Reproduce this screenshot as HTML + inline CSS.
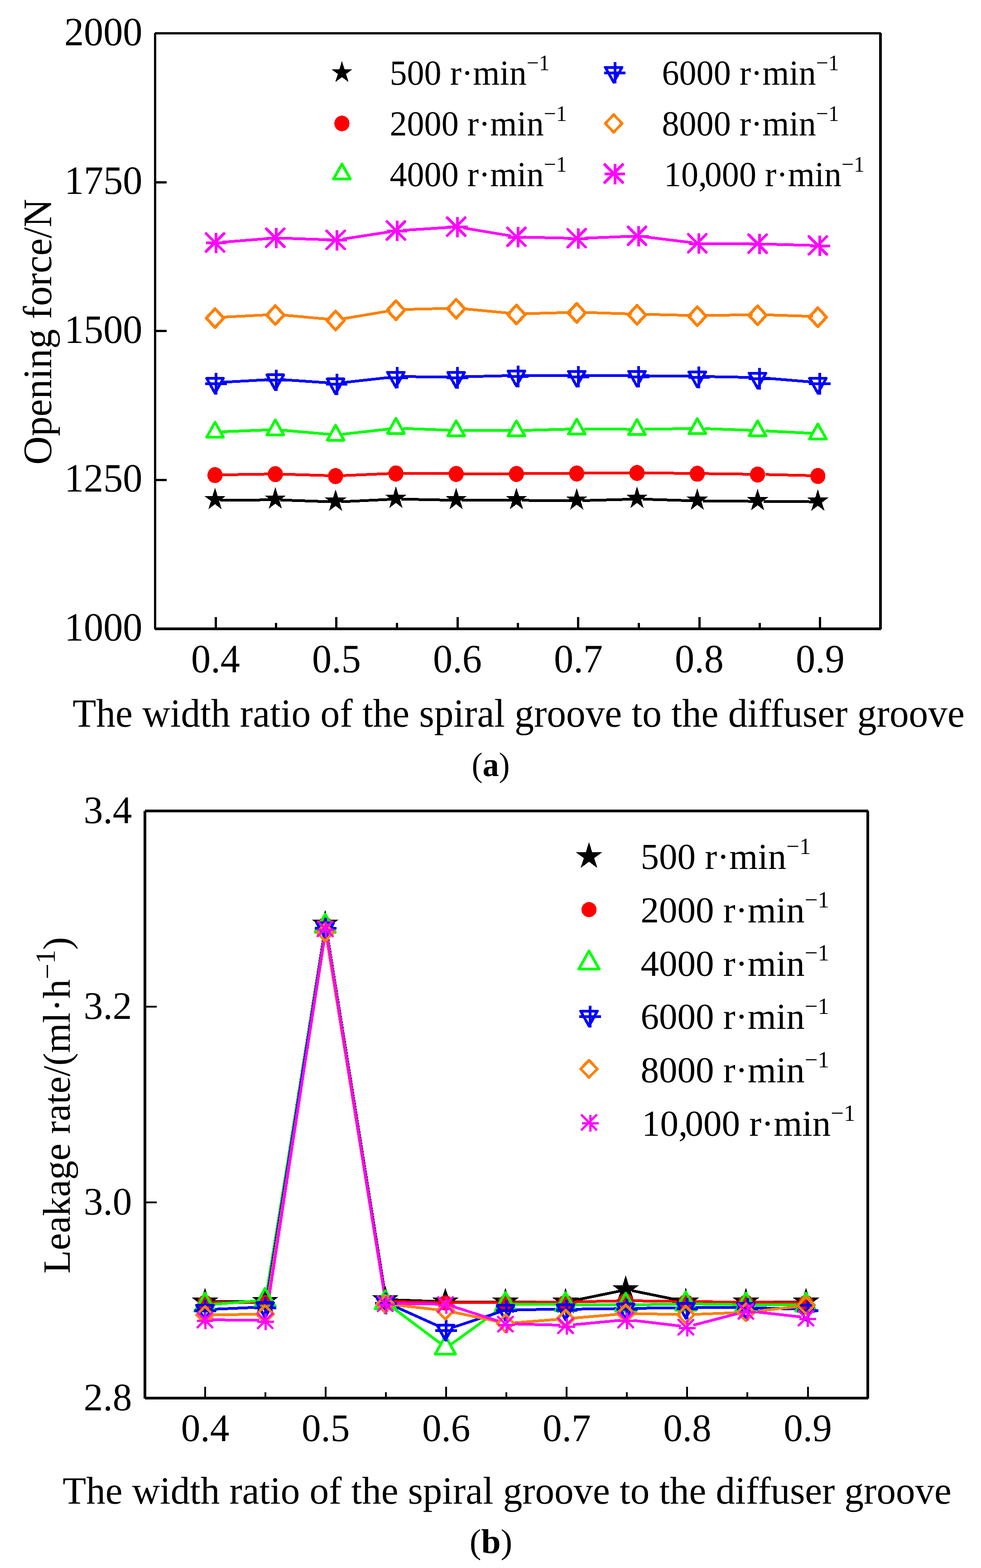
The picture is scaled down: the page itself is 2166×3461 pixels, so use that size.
<!DOCTYPE html>
<html lang="en">
<head>
<meta charset="utf-8">
<title>Opening force and leakage rate versus width ratio</title>
<style>
html,body{margin:0;padding:0;background:#fff;}
body{width:2166px;height:3461px;overflow:hidden;}
svg{display:block;}
svg text{font-family:"Liberation Serif", "DejaVu Serif", serif;fill:#000;}
</style>
</head>
<body>
<svg width="2166" height="3461" viewBox="0 0 2166 3461" shape-rendering="crispEdges" text-rendering="geometricPrecision">
<rect x="0" y="0" width="2166" height="3461" fill="#fff"/>
<rect x="340" y="73" width="5" height="1316" fill="#000"/>
<rect x="342" y="71" width="1603" height="5" fill="#000"/>
<rect x="1941" y="73" width="6" height="1316" fill="#000"/>
<rect x="342" y="1385" width="1603" height="6" fill="#000"/>
<rect x="345" y="400" width="23" height="5" fill="#000"/>
<rect x="345" y="728" width="23" height="5" fill="#000"/>
<rect x="345" y="1057" width="23" height="5" fill="#000"/>
<text transform="translate(314.5,99.5) scale(0.972,1)" font-size="88.8" text-anchor="end">2000</text>
<text transform="translate(314.5,428.125) scale(0.972,1)" font-size="88.8" text-anchor="end">1750</text>
<text transform="translate(314.5,756.75) scale(0.972,1)" font-size="88.8" text-anchor="end">1500</text>
<text transform="translate(314.5,1085.38) scale(0.972,1)" font-size="88.8" text-anchor="end">1250</text>
<text transform="translate(314.5,1414) scale(0.972,1)" font-size="88.8" text-anchor="end">1000</text>
<rect x="474" y="1362" width="5" height="23" fill="#000"/>
<text transform="translate(476,1484) scale(0.972,1)" font-size="88.8" text-anchor="middle">0.4</text>
<rect x="607" y="1375" width="5" height="10" fill="#000"/>
<rect x="740" y="1362" width="5" height="23" fill="#000"/>
<text transform="translate(743,1484) scale(0.972,1)" font-size="88.8" text-anchor="middle">0.5</text>
<rect x="874" y="1375" width="5" height="10" fill="#000"/>
<rect x="1008" y="1362" width="5" height="23" fill="#000"/>
<text transform="translate(1010,1484) scale(0.972,1)" font-size="88.8" text-anchor="middle">0.6</text>
<rect x="1141" y="1375" width="5" height="10" fill="#000"/>
<rect x="1274" y="1362" width="5" height="23" fill="#000"/>
<text transform="translate(1277,1484) scale(0.972,1)" font-size="88.8" text-anchor="middle">0.7</text>
<rect x="1408" y="1375" width="5" height="10" fill="#000"/>
<rect x="1542" y="1362" width="5" height="23" fill="#000"/>
<text transform="translate(1544,1484) scale(0.972,1)" font-size="88.8" text-anchor="middle">0.8</text>
<rect x="1675" y="1375" width="5" height="10" fill="#000"/>
<rect x="1808" y="1362" width="5" height="23" fill="#000"/>
<text transform="translate(1811,1484) scale(0.972,1)" font-size="88.8" text-anchor="middle">0.9</text>
<text transform="translate(160.2,1603.7) scale(0.9662,1)" font-size="88.3" text-anchor="start">The width ratio of the spiral groove to the diffuser groove</text>
<text transform="translate(1083.5,1713) scale(0.963,1)" font-size="75" text-anchor="middle">(<tspan font-weight="bold">a</tspan>)</text>
<text transform="translate(113,732.3) rotate(-90) scale(0.9715,1)" font-size="89.5" text-anchor="middle">Opening force/N</text>
<path d="M486.0 1104.2L599.3 1103.3M619.3 1103.6L732.6 1107.6M752.6 1107.5L865.9 1102.0M885.9 1101.7L999.2 1104.1M1019.2 1104.3L1132.5 1104.3M1152.5 1104.4L1265.8 1105.2M1285.8 1105.0L1399.1 1101.8M1419.1 1101.8L1532.4 1105.4M1552.4 1105.8L1665.7 1106.6M1685.7 1106.8L1799.0 1107.6" fill="none" stroke="#000" stroke-width="6"/>
<path d="M490.0 1048.1L595.3 1046.3M623.3 1046.6L728.6 1049.9M756.6 1049.8L861.9 1045.2M889.9 1044.7L995.2 1045.5M1023.2 1045.6L1128.5 1045.6M1156.5 1045.5L1261.8 1044.7M1289.8 1044.5L1395.1 1043.6M1423.1 1043.7L1528.4 1045.0M1556.4 1045.4L1661.7 1046.8M1689.7 1047.3L1795.0 1049.9" fill="none" stroke="#f00" stroke-width="6"/>
<path d="M490.0 953.0L595.3 948.8M623.2 949.5L728.7 958.8M756.5 958.4L862.0 946.6M889.9 945.6L995.2 949.8M1023.2 950.4L1128.5 950.4M1156.5 950.0L1261.8 947.1M1289.8 946.8L1395.1 947.6M1423.1 947.5L1528.4 945.8M1556.4 946.1L1661.7 949.9M1689.7 951.1L1795.0 956.5" fill="none" stroke="#0f0" stroke-width="6"/>
<path d="M490.0 843.8L595.3 837.9M623.3 838.0L728.6 845.2M756.5 844.6L862.0 832.8M889.9 831.4L995.2 831.8M1023.2 831.6L1128.5 829.0M1156.5 828.8L1261.8 829.1M1289.8 829.2L1395.1 829.2M1423.1 829.4L1528.4 830.6M1556.4 831.1L1661.7 833.1M1689.7 834.6L1795.0 843.4" fill="none" stroke="#00f" stroke-width="6"/>
<path d="M490.0 700.1L595.3 694.7M623.2 695.3L728.7 704.8M756.4 703.7L862.1 685.8M889.9 683.1L995.2 680.5M1023.1 681.5L1128.6 691.6M1156.5 692.5L1261.8 689.6M1289.8 689.6L1395.1 693.0M1423.1 693.7L1528.4 696.3M1556.4 696.4L1661.7 694.7M1689.7 694.9L1795.0 698.3" fill="none" stroke="#ff8000" stroke-width="6"/>
<path d="M490.0 534.7L595.3 526.3M623.3 525.7L728.6 529.4M756.4 527.8L862.1 511.4M889.9 508.4L995.2 501.7M1023.0 503.1L1128.7 520.8M1156.5 523.4L1261.8 525.9M1289.8 525.7L1395.1 521.5M1423.0 522.7L1528.5 535.7M1556.4 537.5L1661.7 538.3M1689.7 538.8L1795.0 541.7" fill="none" stroke="#f0f" stroke-width="6"/>
<polygon points="474.8,1076.3 480.4,1094.6 498.6,1094.6 483.9,1105.9 489.5,1124.2 474.8,1112.9 460.1,1124.2 465.7,1105.9 451.0,1094.6 469.2,1094.6" fill="#000"/>
<polygon points="607.9,1075.2 613.5,1093.5 631.7,1093.5 617.0,1104.8 622.6,1123.1 607.9,1111.8 593.2,1123.1 598.8,1104.8 584.1,1093.5 602.3,1093.5" fill="#000"/>
<polygon points="741.0,1080.0 746.6,1098.3 764.8,1098.3 750.1,1109.6 755.7,1127.9 741.0,1116.6 726.3,1127.9 731.9,1109.6 717.2,1098.3 735.4,1098.3" fill="#000"/>
<polygon points="874.1,1073.5 879.7,1091.8 897.9,1091.8 883.2,1103.1 888.8,1121.4 874.1,1110.1 859.4,1121.4 865.0,1103.1 850.3,1091.8 868.5,1091.8" fill="#000"/>
<polygon points="1007.2,1076.3 1012.8,1094.6 1031.0,1094.6 1016.3,1105.9 1021.9,1124.2 1007.2,1112.9 992.5,1124.2 998.1,1105.9 983.4,1094.6 1001.6,1094.6" fill="#000"/>
<polygon points="1140.3,1076.3 1145.9,1094.6 1164.1,1094.6 1149.4,1105.9 1155.0,1124.2 1140.3,1112.9 1125.6,1124.2 1131.2,1105.9 1116.5,1094.6 1134.7,1094.6" fill="#000"/>
<polygon points="1273.4,1077.3 1279.0,1095.6 1297.2,1095.6 1282.5,1106.9 1288.1,1125.2 1273.4,1113.9 1258.7,1125.2 1264.3,1106.9 1249.6,1095.6 1267.8,1095.6" fill="#000"/>
<polygon points="1406.5,1073.5 1412.1,1091.8 1430.3,1091.8 1415.6,1103.1 1421.2,1121.4 1406.5,1110.1 1391.8,1121.4 1397.4,1103.1 1382.7,1091.8 1400.9,1091.8" fill="#000"/>
<polygon points="1539.6,1077.7 1545.2,1096.0 1563.4,1096.0 1548.7,1107.3 1554.3,1125.6 1539.6,1114.3 1524.9,1125.6 1530.5,1107.3 1515.8,1096.0 1534.0,1096.0" fill="#000"/>
<polygon points="1672.7,1078.7 1678.3,1097.0 1696.5,1097.0 1681.8,1108.3 1687.4,1126.6 1672.7,1115.3 1658.0,1126.6 1663.6,1108.3 1648.9,1097.0 1667.1,1097.0" fill="#000"/>
<polygon points="1805.8,1079.7 1811.4,1098.0 1829.6,1098.0 1814.9,1109.3 1820.5,1127.6 1805.8,1116.3 1791.1,1127.6 1796.7,1109.3 1782.0,1098.0 1800.2,1098.0" fill="#000"/>
<ellipse cx="474.8" cy="1048.8" rx="16.7" ry="17.7" fill="#f00"/>
<ellipse cx="607.9" cy="1046.6" rx="16.7" ry="17.7" fill="#f00"/>
<ellipse cx="741.0" cy="1050.9" rx="16.7" ry="17.7" fill="#f00"/>
<ellipse cx="874.1" cy="1045.1" rx="16.7" ry="17.7" fill="#f00"/>
<ellipse cx="1007.2" cy="1046.1" rx="16.7" ry="17.7" fill="#f00"/>
<ellipse cx="1140.3" cy="1046.1" rx="16.7" ry="17.7" fill="#f00"/>
<ellipse cx="1273.4" cy="1045.1" rx="16.7" ry="17.7" fill="#f00"/>
<ellipse cx="1406.5" cy="1044.0" rx="16.7" ry="17.7" fill="#f00"/>
<ellipse cx="1539.6" cy="1045.7" rx="16.7" ry="17.7" fill="#f00"/>
<ellipse cx="1672.7" cy="1047.5" rx="16.7" ry="17.7" fill="#f00"/>
<ellipse cx="1805.8" cy="1050.7" rx="16.7" ry="17.7" fill="#f00"/>
<polygon points="456.3,965.0 493.3,965.0 474.8,932.0" fill="none" stroke="#0f0" stroke-width="6" stroke-linejoin="round"/>
<polygon points="589.4,959.8 626.4,959.8 607.9,926.8" fill="none" stroke="#0f0" stroke-width="6" stroke-linejoin="round"/>
<polygon points="722.5,971.5 759.5,971.5 741.0,938.5" fill="none" stroke="#0f0" stroke-width="6" stroke-linejoin="round"/>
<polygon points="855.6,956.5 892.6,956.5 874.1,923.5" fill="none" stroke="#0f0" stroke-width="6" stroke-linejoin="round"/>
<polygon points="988.7,961.9 1025.7,961.9 1007.2,928.9" fill="none" stroke="#0f0" stroke-width="6" stroke-linejoin="round"/>
<polygon points="1121.8,961.9 1158.8,961.9 1140.3,928.9" fill="none" stroke="#0f0" stroke-width="6" stroke-linejoin="round"/>
<polygon points="1254.9,958.2 1291.9,958.2 1273.4,925.2" fill="none" stroke="#0f0" stroke-width="6" stroke-linejoin="round"/>
<polygon points="1388.0,959.2 1425.0,959.2 1406.5,926.2" fill="none" stroke="#0f0" stroke-width="6" stroke-linejoin="round"/>
<polygon points="1521.1,957.1 1558.1,957.1 1539.6,924.1" fill="none" stroke="#0f0" stroke-width="6" stroke-linejoin="round"/>
<polygon points="1654.2,961.9 1691.2,961.9 1672.7,928.9" fill="none" stroke="#0f0" stroke-width="6" stroke-linejoin="round"/>
<polygon points="1787.3,968.7 1824.3,968.7 1805.8,935.7" fill="none" stroke="#0f0" stroke-width="6" stroke-linejoin="round"/>
<g stroke="#00f" stroke-width="6" fill="none" stroke-linejoin="round"><polygon points="456.3,834.9 493.3,834.9 474.8,867.9"/><path d="M453.2 846.9H500.8M477.0 823.1V870.7"/></g>
<g stroke="#00f" stroke-width="6" fill="none" stroke-linejoin="round"><polygon points="589.4,827.4 626.4,827.4 607.9,860.4"/><path d="M586.5 839.4H634.1M610.3 815.6V863.2"/></g>
<g stroke="#00f" stroke-width="6" fill="none" stroke-linejoin="round"><polygon points="722.5,836.4 759.5,836.4 741.0,869.4"/><path d="M719.8 848.4H767.4M743.6 824.6V872.2"/></g>
<g stroke="#00f" stroke-width="6" fill="none" stroke-linejoin="round"><polygon points="855.6,821.6 892.6,821.6 874.1,854.6"/><path d="M853.1 833.6H900.7M876.9 809.8V857.4"/></g>
<g stroke="#00f" stroke-width="6" fill="none" stroke-linejoin="round"><polygon points="988.7,822.2 1025.7,822.2 1007.2,855.2"/><path d="M986.4 834.2H1034.0M1010.2 810.4V858.0"/></g>
<g stroke="#00f" stroke-width="6" fill="none" stroke-linejoin="round"><polygon points="1121.8,819.0 1158.8,819.0 1140.3,852.0"/><path d="M1119.7 831.0H1167.3M1143.5 807.2V854.8"/></g>
<g stroke="#00f" stroke-width="6" fill="none" stroke-linejoin="round"><polygon points="1254.9,819.5 1291.9,819.5 1273.4,852.5"/><path d="M1253.0 831.5H1300.6M1276.8 807.7V855.3"/></g>
<g stroke="#00f" stroke-width="6" fill="none" stroke-linejoin="round"><polygon points="1388.0,819.5 1425.0,819.5 1406.5,852.5"/><path d="M1386.3 831.5H1433.9M1410.1 807.7V855.3"/></g>
<g stroke="#00f" stroke-width="6" fill="none" stroke-linejoin="round"><polygon points="1521.1,821.1 1558.1,821.1 1539.6,854.1"/><path d="M1519.6 833.1H1567.2M1543.4 809.3V856.9"/></g>
<g stroke="#00f" stroke-width="6" fill="none" stroke-linejoin="round"><polygon points="1654.2,823.7 1691.2,823.7 1672.7,856.7"/><path d="M1652.9 835.7H1700.5M1676.7 811.9V859.5"/></g>
<g stroke="#00f" stroke-width="6" fill="none" stroke-linejoin="round"><polygon points="1787.3,834.9 1824.3,834.9 1805.8,867.9"/><path d="M1786.2 846.9H1833.8M1810.0 823.1V870.7"/></g>
<polygon points="474.8,681.4 494.0,702.2 474.8,723.0 455.6,702.2" fill="none" stroke="#ff8000" stroke-width="6.5" stroke-linejoin="round"/>
<polygon points="607.9,674.6 627.1,695.4 607.9,716.2 588.7,695.4" fill="none" stroke="#ff8000" stroke-width="6.5" stroke-linejoin="round"/>
<polygon points="741.0,686.7 760.2,707.5 741.0,728.3 721.8,707.5" fill="none" stroke="#ff8000" stroke-width="6.5" stroke-linejoin="round"/>
<polygon points="874.1,664.0 893.3,684.8 874.1,705.6 854.9,684.8" fill="none" stroke="#ff8000" stroke-width="6.5" stroke-linejoin="round"/>
<polygon points="1007.2,660.8 1026.4,681.6 1007.2,702.4 988.0,681.6" fill="none" stroke="#ff8000" stroke-width="6.5" stroke-linejoin="round"/>
<polygon points="1140.3,673.5 1159.5,694.3 1140.3,715.1 1121.1,694.3" fill="none" stroke="#ff8000" stroke-width="6.5" stroke-linejoin="round"/>
<polygon points="1273.4,669.8 1292.6,690.6 1273.4,711.4 1254.2,690.6" fill="none" stroke="#ff8000" stroke-width="6.5" stroke-linejoin="round"/>
<polygon points="1406.5,674.0 1425.7,694.8 1406.5,715.6 1387.3,694.8" fill="none" stroke="#ff8000" stroke-width="6.5" stroke-linejoin="round"/>
<polygon points="1539.6,677.2 1558.8,698.0 1539.6,718.8 1520.4,698.0" fill="none" stroke="#ff8000" stroke-width="6.5" stroke-linejoin="round"/>
<polygon points="1672.7,675.1 1691.9,695.9 1672.7,716.7 1653.5,695.9" fill="none" stroke="#ff8000" stroke-width="6.5" stroke-linejoin="round"/>
<polygon points="1805.8,679.3 1825.0,700.1 1805.8,720.9 1786.6,700.1" fill="none" stroke="#ff8000" stroke-width="6.5" stroke-linejoin="round"/>
<path d="M454.5 536.3H499.5M477.0 513.8V558.8" stroke="#f0f" stroke-width="6" fill="none"/><path d="M455.0 515.5L494.6 555.1M455.0 555.1L494.6 515.5" stroke="#f0f" stroke-width="6" fill="none" stroke-linecap="round"/>
<path d="M587.8 525.7H632.8M610.3 503.2V548.2" stroke="#f0f" stroke-width="6" fill="none"/><path d="M588.1 504.9L627.7 544.5M588.1 544.5L627.7 504.9" stroke="#f0f" stroke-width="6" fill="none" stroke-linecap="round"/>
<path d="M721.1 530.4H766.1M743.6 507.9V552.9" stroke="#f0f" stroke-width="6" fill="none"/><path d="M721.2 509.6L760.8 549.2M721.2 549.2L760.8 509.6" stroke="#f0f" stroke-width="6" fill="none" stroke-linecap="round"/>
<path d="M854.4 509.8H899.4M876.9 487.3V532.3" stroke="#f0f" stroke-width="6" fill="none"/><path d="M854.3 489.0L893.9 528.6M854.3 528.6L893.9 489.0" stroke="#f0f" stroke-width="6" fill="none" stroke-linecap="round"/>
<path d="M987.7 501.3H1032.7M1010.2 478.8V523.8" stroke="#f0f" stroke-width="6" fill="none"/><path d="M987.4 480.5L1027.0 520.1M987.4 520.1L1027.0 480.5" stroke="#f0f" stroke-width="6" fill="none" stroke-linecap="round"/>
<path d="M1121.0 523.6H1166.0M1143.5 501.1V546.1" stroke="#f0f" stroke-width="6" fill="none"/><path d="M1120.5 502.8L1160.1 542.4M1120.5 542.4L1160.1 502.8" stroke="#f0f" stroke-width="6" fill="none" stroke-linecap="round"/>
<path d="M1254.3 526.7H1299.3M1276.8 504.2V549.2" stroke="#f0f" stroke-width="6" fill="none"/><path d="M1253.6 505.9L1293.2 545.5M1253.6 545.5L1293.2 505.9" stroke="#f0f" stroke-width="6" fill="none" stroke-linecap="round"/>
<path d="M1387.6 521.5H1432.6M1410.1 499.0V544.0" stroke="#f0f" stroke-width="6" fill="none"/><path d="M1386.7 500.7L1426.3 540.3M1386.7 540.3L1426.3 500.7" stroke="#f0f" stroke-width="6" fill="none" stroke-linecap="round"/>
<path d="M1520.9 537.9H1565.9M1543.4 515.4V560.4" stroke="#f0f" stroke-width="6" fill="none"/><path d="M1519.8 517.1L1559.4 556.7M1519.8 556.7L1559.4 517.1" stroke="#f0f" stroke-width="6" fill="none" stroke-linecap="round"/>
<path d="M1654.2 538.9H1699.2M1676.7 516.4V561.4" stroke="#f0f" stroke-width="6" fill="none"/><path d="M1652.9 518.1L1692.5 557.7M1652.9 557.7L1692.5 518.1" stroke="#f0f" stroke-width="6" fill="none" stroke-linecap="round"/>
<path d="M1787.5 542.6H1832.5M1810.0 520.1V565.1" stroke="#f0f" stroke-width="6" fill="none"/><path d="M1786.0 521.8L1825.6 561.4M1786.0 561.4L1825.6 521.8" stroke="#f0f" stroke-width="6" fill="none" stroke-linecap="round"/>
<polygon points="755.0,134.8 760.6,152.5 778.8,152.5 764.1,163.5 769.7,181.3 755.0,170.3 740.3,181.3 745.9,163.5 731.2,152.5 749.4,152.5" fill="#000"/>
<text transform="translate(860.5,187) scale(0.978,1)" font-size="77.8" text-anchor="start">500 r·min<tspan font-size="49.0" dy="-31.9">−1</tspan></text>
<g stroke="#00f" stroke-width="6" fill="none" stroke-linejoin="round"><polygon points="1336.5,148.5 1373.5,148.5 1355.0,181.5"/><path d="M1333.7 160.5H1381.3M1357.5 136.7V184.3"/></g>
<text transform="translate(1461.5,187) scale(0.978,1)" font-size="77.8" text-anchor="start">6000 r·min<tspan font-size="49.0" dy="-31.9">−1</tspan></text>
<ellipse cx="755.0" cy="272.5" rx="16.7" ry="17.2" fill="#f00"/>
<text transform="translate(860.5,299) scale(0.978,1)" font-size="77.8" text-anchor="start">2000 r·min<tspan font-size="49.0" dy="-31.9">−1</tspan></text>
<polygon points="1355.0,253.0 1373.5,272.5 1355.0,292.0 1336.5,272.5" fill="none" stroke="#ff8000" stroke-width="6" stroke-linejoin="round"/>
<text transform="translate(1461.5,299) scale(0.978,1)" font-size="77.8" text-anchor="start">8000 r·min<tspan font-size="49.0" dy="-31.9">−1</tspan></text>
<polygon points="736.5,395.0 773.5,395.0 755.0,362.0" fill="none" stroke="#0f0" stroke-width="6" stroke-linejoin="round"/>
<text transform="translate(860.5,410.5) scale(0.978,1)" font-size="77.8" text-anchor="start">4000 r·min<tspan font-size="49.0" dy="-31.9">−1</tspan></text>
<path d="M1335.0 384.0H1380.0M1357.5 361.5V406.5" stroke="#f0f" stroke-width="6" fill="none"/><path d="M1335.2 363.2L1374.8 402.8M1335.2 402.8L1374.8 363.2" stroke="#f0f" stroke-width="6" fill="none" stroke-linecap="round"/>
<text transform="translate(1466,410.5) scale(0.978,1)" font-size="77.8" text-anchor="start">10,<tspan dx="-5.4">000</tspan> r·min<tspan font-size="49.0" dy="-31.9">−1</tspan></text>
<rect x="317" y="1790" width="6" height="1297" fill="#000"/>
<rect x="320" y="1787" width="1597" height="6" fill="#000"/>
<rect x="1913" y="1790" width="6" height="1297" fill="#000"/>
<rect x="320" y="3083" width="1597" height="6" fill="#000"/>
<text transform="translate(291.3,1817) scale(0.988,1)" font-size="86.2" text-anchor="end">3.4</text>
<rect x="323" y="2220" width="23" height="4" fill="#000"/>
<text transform="translate(291.3,2249) scale(0.988,1)" font-size="86.2" text-anchor="end">3.2</text>
<rect x="323" y="2652" width="23" height="4" fill="#000"/>
<text transform="translate(291.3,2681) scale(0.988,1)" font-size="86.2" text-anchor="end">3.0</text>
<text transform="translate(291.3,3113) scale(0.988,1)" font-size="86.2" text-anchor="end">2.8</text>
<rect x="451" y="3061" width="4" height="22" fill="#000"/>
<text transform="translate(453,3180.5) scale(0.988,1)" font-size="86.2" text-anchor="middle">0.4</text>
<rect x="584" y="3073" width="4" height="10" fill="#000"/>
<rect x="717" y="3061" width="4" height="22" fill="#000"/>
<text transform="translate(719.1,3180.5) scale(0.988,1)" font-size="86.2" text-anchor="middle">0.5</text>
<rect x="850" y="3073" width="4" height="10" fill="#000"/>
<rect x="983" y="3061" width="4" height="22" fill="#000"/>
<text transform="translate(985.2,3180.5) scale(0.988,1)" font-size="86.2" text-anchor="middle">0.6</text>
<rect x="1116" y="3073" width="4" height="10" fill="#000"/>
<rect x="1249" y="3061" width="4" height="22" fill="#000"/>
<text transform="translate(1251.3,3180.5) scale(0.988,1)" font-size="86.2" text-anchor="middle">0.7</text>
<rect x="1382" y="3073" width="4" height="10" fill="#000"/>
<rect x="1515" y="3061" width="4" height="22" fill="#000"/>
<text transform="translate(1517.4,3180.5) scale(0.988,1)" font-size="86.2" text-anchor="middle">0.8</text>
<rect x="1648" y="3073" width="4" height="10" fill="#000"/>
<rect x="1782" y="3061" width="4" height="22" fill="#000"/>
<text transform="translate(1783.5,3180.5) scale(0.988,1)" font-size="86.2" text-anchor="middle">0.9</text>
<text transform="translate(138.3,3319) scale(0.9965,1)" font-size="85.3" text-anchor="start">The width ratio of the spiral groove to the diffuser groove</text>
<text transform="translate(1084,3427.5) scale(1.016,1)" font-size="76.2" text-anchor="middle">(<tspan font-weight="bold">b</tspan>)</text>
<text transform="translate(154,2068.2) rotate(-90) scale(0.994,1)" font-size="85.3" text-anchor="end">Leakage rate/(ml<tspan dx="1.5">·</tspan><tspan dx="1">h</tspan><tspan font-size="61.5" dy="-29">−</tspan><tspan font-size="61.5" dy="-4.4">1</tspan><tspan dy="33.4">)</tspan></text>
<path d="M464.0 2873.6L575.1 2872.4M587.8 2861.4L717.4 2050.4M720.8 2050.4L850.4 2857.6M863.1 2868.9L974.2 2873.1M996.2 2873.5L1107.3 2873.7M1129.2 2873.7L1240.3 2873.7M1262.1 2871.5L1373.6 2848.7M1395.1 2848.7L1506.6 2871.5M1528.4 2873.7L1639.5 2873.7M1661.5 2873.7L1772.5 2873.7" fill="none" stroke="#000" stroke-width="6"/>
<path d="M467.0 2874.5L572.0 2874.5M588.3 2860.7L716.9 2054.3M721.3 2054.3L849.9 2858.7M866.1 2872.8L971.2 2875.2M999.2 2875.4L1104.3 2875.1M1132.2 2874.9L1237.3 2874.1M1265.3 2873.7L1370.4 2871.3M1398.3 2871.2L1503.4 2872.8M1531.4 2873.1L1636.5 2874.1M1664.4 2874.3L1769.5 2874.8" fill="none" stroke="#f00" stroke-width="6"/>
<path d="M467.0 2879.4L572.1 2870.9M588.3 2856.0L716.9 2057.7M721.3 2057.7L849.9 2861.2M863.3 2883.4L974.0 2966.6M996.6 2966.8L1106.9 2887.2M1132.2 2879.1L1237.3 2879.4M1265.3 2879.6L1370.4 2880.4M1398.3 2880.2L1503.4 2878.3M1531.4 2878.2L1636.5 2879.8M1664.4 2880.1L1769.5 2880.4" fill="none" stroke="#0f0" stroke-width="6"/>
<path d="M467.0 2890.1L572.1 2885.4M588.2 2871.0L716.9 2060.8M721.3 2060.8L849.9 2861.1M864.9 2880.6L972.4 2929.0M998.5 2930.3L1104.9 2895.4M1132.2 2890.9L1237.3 2890.1M1265.3 2889.8L1370.4 2888.3M1398.3 2887.9L1503.4 2886.5M1531.4 2886.3L1636.5 2886.2M1664.4 2886.6L1769.5 2889.9" fill="none" stroke="#00f" stroke-width="6"/>
<path d="M467.0 2902.4L572.1 2900.8M588.2 2886.8L716.9 2071.8M721.3 2071.8L849.9 2864.5M866.1 2879.8L971.3 2891.5M998.9 2895.9L1104.6 2918.1M1132.2 2919.9L1237.3 2911.8M1265.2 2909.5L1370.4 2900.4M1398.3 2899.5L1503.4 2901.5M1531.4 2901.2L1636.5 2897.0M1664.4 2894.8L1769.6 2882.9" fill="none" stroke="#ff8000" stroke-width="6"/>
<path d="M467.0 2913.1L572.1 2914.5M588.2 2900.9L717.0 2063.2M721.3 2063.2L849.9 2863.0M866.1 2877.0L971.2 2878.7M998.5 2883.2L1104.9 2917.5M1132.2 2922.2L1237.3 2925.0M1265.2 2924.1L1370.4 2914.2M1398.3 2914.5L1503.5 2927.0M1530.9 2925.0L1636.9 2897.3M1664.4 2895.2L1769.6 2906.9" fill="none" stroke="#f0f" stroke-width="6"/>
<polygon points="452.6,2842.4 459.6,2864.0 482.3,2864.0 464.0,2877.4 471.0,2899.0 452.6,2885.6 434.2,2899.0 441.2,2877.4 422.9,2864.0 445.6,2864.0" fill="#000"/>
<polygon points="585.3,2841.1 592.3,2862.6 615.0,2862.6 596.7,2876.0 603.7,2897.6 585.3,2884.2 566.9,2897.6 573.9,2876.0 555.6,2862.6 578.3,2862.6" fill="#000"/>
<polygon points="718.0,2008.2 725.0,2029.8 747.7,2029.8 729.4,2043.2 736.4,2064.8 718.0,2051.4 699.6,2064.8 706.6,2043.2 688.3,2029.8 711.0,2029.8" fill="#000"/>
<polygon points="850.7,2837.2 857.7,2858.8 880.4,2858.8 862.1,2872.2 869.1,2893.8 850.7,2880.4 832.3,2893.8 839.3,2872.2 821.0,2858.8 843.7,2858.8" fill="#000"/>
<polygon points="983.4,2842.2 990.4,2863.8 1013.1,2863.8 994.8,2877.2 1001.8,2898.8 983.4,2885.4 965.0,2898.8 972.0,2877.2 953.7,2863.8 976.4,2863.8" fill="#000"/>
<polygon points="1116.1,2842.4 1123.1,2864.0 1145.8,2864.0 1127.5,2877.4 1134.5,2899.0 1116.1,2885.6 1097.7,2899.0 1104.7,2877.4 1086.4,2864.0 1109.1,2864.0" fill="#000"/>
<polygon points="1248.8,2842.4 1255.8,2864.0 1278.5,2864.0 1260.2,2877.4 1267.2,2899.0 1248.8,2885.6 1230.4,2899.0 1237.4,2877.4 1219.1,2864.0 1241.8,2864.0" fill="#000"/>
<polygon points="1381.5,2815.2 1388.5,2836.8 1411.2,2836.8 1392.9,2850.2 1399.9,2871.8 1381.5,2858.4 1363.1,2871.8 1370.1,2850.2 1351.8,2836.8 1374.5,2836.8" fill="#000"/>
<polygon points="1514.2,2842.4 1521.2,2864.0 1543.9,2864.0 1525.6,2877.4 1532.6,2899.0 1514.2,2885.6 1495.8,2899.0 1502.8,2877.4 1484.5,2864.0 1507.2,2864.0" fill="#000"/>
<polygon points="1646.9,2842.4 1653.9,2864.0 1676.6,2864.0 1658.3,2877.4 1665.3,2899.0 1646.9,2885.6 1628.5,2899.0 1635.5,2877.4 1617.2,2864.0 1639.9,2864.0" fill="#000"/>
<polygon points="1779.6,2842.4 1786.6,2864.0 1809.3,2864.0 1791.0,2877.4 1798.0,2899.0 1779.6,2885.6 1761.2,2899.0 1768.2,2877.4 1749.9,2864.0 1772.6,2864.0" fill="#000"/>
<ellipse cx="452.6" cy="2875.0" rx="16.7" ry="16.7" fill="#f00"/>
<ellipse cx="585.3" cy="2875.0" rx="16.7" ry="16.7" fill="#f00"/>
<ellipse cx="718.0" cy="2041.0" rx="16.7" ry="16.7" fill="#f00"/>
<ellipse cx="850.7" cy="2873.0" rx="16.7" ry="16.7" fill="#f00"/>
<ellipse cx="983.4" cy="2876.0" rx="16.7" ry="16.7" fill="#f00"/>
<ellipse cx="1116.1" cy="2875.5" rx="16.7" ry="16.7" fill="#f00"/>
<ellipse cx="1248.8" cy="2874.5" rx="16.7" ry="16.7" fill="#f00"/>
<ellipse cx="1381.5" cy="2871.5" rx="16.7" ry="16.7" fill="#f00"/>
<ellipse cx="1514.2" cy="2873.5" rx="16.7" ry="16.7" fill="#f00"/>
<ellipse cx="1646.9" cy="2874.7" rx="16.7" ry="16.7" fill="#f00"/>
<ellipse cx="1779.6" cy="2875.4" rx="16.7" ry="16.7" fill="#f00"/>
<polygon points="430.2,2894.3 475.0,2894.3 452.6,2854.4" fill="none" stroke="#0f0" stroke-width="6" stroke-linejoin="round"/>
<polygon points="562.9,2883.6 607.7,2883.6 585.3,2843.7" fill="none" stroke="#0f0" stroke-width="6" stroke-linejoin="round"/>
<polygon points="695.6,2057.7 740.4,2057.7 718.0,2017.8" fill="none" stroke="#0f0" stroke-width="6" stroke-linejoin="round"/>
<polygon points="828.3,2888.8 873.1,2888.8 850.7,2848.9" fill="none" stroke="#0f0" stroke-width="6" stroke-linejoin="round"/>
<polygon points="961.0,2988.8 1005.8,2988.8 983.4,2948.9" fill="none" stroke="#0f0" stroke-width="6" stroke-linejoin="round"/>
<polygon points="1093.7,2892.8 1138.5,2892.8 1116.1,2852.9" fill="none" stroke="#0f0" stroke-width="6" stroke-linejoin="round"/>
<polygon points="1226.4,2893.3 1271.2,2893.3 1248.8,2853.4" fill="none" stroke="#0f0" stroke-width="6" stroke-linejoin="round"/>
<polygon points="1359.1,2894.3 1403.9,2894.3 1381.5,2854.4" fill="none" stroke="#0f0" stroke-width="6" stroke-linejoin="round"/>
<polygon points="1491.8,2891.8 1536.6,2891.8 1514.2,2851.9" fill="none" stroke="#0f0" stroke-width="6" stroke-linejoin="round"/>
<polygon points="1624.5,2893.8 1669.3,2893.8 1646.9,2853.9" fill="none" stroke="#0f0" stroke-width="6" stroke-linejoin="round"/>
<polygon points="1757.2,2894.3 1802.0,2894.3 1779.6,2854.4" fill="none" stroke="#0f0" stroke-width="6" stroke-linejoin="round"/>
<g stroke="#00f" stroke-width="6" fill="none" stroke-linejoin="round"><polygon points="434.1,2881.0 471.1,2881.0 452.6,2914.0"/><path d="M429.2 2893.0H476.8M453.0 2869.2V2916.8"/></g>
<g stroke="#00f" stroke-width="6" fill="none" stroke-linejoin="round"><polygon points="566.8,2875.1 603.8,2875.1 585.3,2908.1"/><path d="M562.2 2887.1H609.8M586.0 2863.3V2910.9"/></g>
<g stroke="#00f" stroke-width="6" fill="none" stroke-linejoin="round"><polygon points="699.5,2037.3 736.5,2037.3 718.0,2070.3"/><path d="M695.3 2049.3H742.9M719.1 2025.5V2073.1"/></g>
<g stroke="#00f" stroke-width="6" fill="none" stroke-linejoin="round"><polygon points="832.2,2865.2 869.2,2865.2 850.7,2898.2"/><path d="M828.4 2877.2H876.0M852.2 2853.4V2901.0"/></g>
<g stroke="#00f" stroke-width="6" fill="none" stroke-linejoin="round"><polygon points="964.9,2925.0 1001.9,2925.0 983.4,2958.0"/><path d="M961.4 2937.0H1009.0M985.2 2913.2V2960.8"/></g>
<g stroke="#00f" stroke-width="6" fill="none" stroke-linejoin="round"><polygon points="1097.6,2881.3 1134.6,2881.3 1116.1,2914.3"/><path d="M1094.5 2893.3H1142.0M1118.2 2869.5V2917.1"/></g>
<g stroke="#00f" stroke-width="6" fill="none" stroke-linejoin="round"><polygon points="1230.3,2880.3 1267.3,2880.3 1248.8,2913.3"/><path d="M1227.5 2892.3H1275.1M1251.3 2868.5V2916.1"/></g>
<g stroke="#00f" stroke-width="6" fill="none" stroke-linejoin="round"><polygon points="1363.0,2878.4 1400.0,2878.4 1381.5,2911.4"/><path d="M1360.6 2890.4H1408.2M1384.4 2866.6V2914.2"/></g>
<g stroke="#00f" stroke-width="6" fill="none" stroke-linejoin="round"><polygon points="1495.7,2876.6 1532.7,2876.6 1514.2,2909.6"/><path d="M1493.6 2888.6H1541.2M1517.4 2864.8V2912.4"/></g>
<g stroke="#00f" stroke-width="6" fill="none" stroke-linejoin="round"><polygon points="1628.4,2876.5 1665.4,2876.5 1646.9,2909.5"/><path d="M1626.7 2888.5H1674.2M1650.5 2864.7V2912.3"/></g>
<g stroke="#00f" stroke-width="6" fill="none" stroke-linejoin="round"><polygon points="1761.1,2880.6 1798.1,2880.6 1779.6,2913.6"/><path d="M1759.7 2892.6H1807.3M1783.5 2868.8V2916.4"/></g>
<polygon points="452.6,2883.7 471.1,2902.6 452.6,2921.5 434.1,2902.6" fill="none" stroke="#ff8000" stroke-width="6" stroke-linejoin="round"/>
<polygon points="585.3,2881.7 603.8,2900.6 585.3,2919.5 566.8,2900.6" fill="none" stroke="#ff8000" stroke-width="6" stroke-linejoin="round"/>
<polygon points="718.0,2039.1 736.5,2058.0 718.0,2076.9 699.5,2058.0" fill="none" stroke="#ff8000" stroke-width="6" stroke-linejoin="round"/>
<polygon points="850.7,2859.4 869.2,2878.3 850.7,2897.2 832.2,2878.3" fill="none" stroke="#ff8000" stroke-width="6" stroke-linejoin="round"/>
<polygon points="983.4,2874.1 1001.9,2893.0 983.4,2911.9 964.9,2893.0" fill="none" stroke="#ff8000" stroke-width="6" stroke-linejoin="round"/>
<polygon points="1116.1,2902.1 1134.6,2921.0 1116.1,2939.9 1097.6,2921.0" fill="none" stroke="#ff8000" stroke-width="6" stroke-linejoin="round"/>
<polygon points="1248.8,2891.8 1267.3,2910.7 1248.8,2929.6 1230.3,2910.7" fill="none" stroke="#ff8000" stroke-width="6" stroke-linejoin="round"/>
<polygon points="1381.5,2880.3 1400.0,2899.2 1381.5,2918.1 1363.0,2899.2" fill="none" stroke="#ff8000" stroke-width="6" stroke-linejoin="round"/>
<polygon points="1514.2,2882.9 1532.7,2901.8 1514.2,2920.7 1495.7,2901.8" fill="none" stroke="#ff8000" stroke-width="6" stroke-linejoin="round"/>
<polygon points="1646.9,2877.5 1665.4,2896.4 1646.9,2915.3 1628.4,2896.4" fill="none" stroke="#ff8000" stroke-width="6" stroke-linejoin="round"/>
<polygon points="1779.6,2862.4 1798.1,2881.3 1779.6,2900.2 1761.1,2881.3" fill="none" stroke="#ff8000" stroke-width="6" stroke-linejoin="round"/>
<path d="M434.6 2915.5H471.4M453.0 2897.1V2933.9" stroke="#f0f" stroke-width="5" fill="none"/><path d="M436.4 2897.6L468.8 2930.0M436.4 2930.0L468.8 2897.6" stroke="#f0f" stroke-width="5" fill="none" stroke-linecap="round"/>
<path d="M567.6 2917.3H604.5M586.0 2898.9V2935.8" stroke="#f0f" stroke-width="5" fill="none"/><path d="M569.1 2899.4L601.5 2931.8M569.1 2931.8L601.5 2899.4" stroke="#f0f" stroke-width="5" fill="none" stroke-linecap="round"/>
<path d="M700.6 2052.0H737.6M719.1 2033.5V2070.4" stroke="#f0f" stroke-width="5" fill="none"/><path d="M701.8 2034.1L734.2 2066.5M701.8 2066.5L734.2 2034.1" stroke="#f0f" stroke-width="5" fill="none" stroke-linecap="round"/>
<path d="M833.7 2879.4H870.6M852.2 2861.0V2897.8" stroke="#f0f" stroke-width="5" fill="none"/><path d="M834.5 2861.5L866.9 2893.9M834.5 2893.9L866.9 2861.5" stroke="#f0f" stroke-width="5" fill="none" stroke-linecap="round"/>
<path d="M966.8 2881.5H1003.7M985.2 2863.1V2899.9" stroke="#f0f" stroke-width="5" fill="none"/><path d="M967.2 2863.6L999.6 2896.0M967.2 2896.0L999.6 2863.6" stroke="#f0f" stroke-width="5" fill="none" stroke-linecap="round"/>
<path d="M1099.8 2924.4H1136.7M1118.2 2906.0V2942.8" stroke="#f0f" stroke-width="5" fill="none"/><path d="M1099.9 2906.5L1132.3 2938.9M1099.9 2938.9L1132.3 2906.5" stroke="#f0f" stroke-width="5" fill="none" stroke-linecap="round"/>
<path d="M1232.9 2928.0H1269.8M1251.3 2909.6V2946.4" stroke="#f0f" stroke-width="5" fill="none"/><path d="M1232.6 2910.1L1265.0 2942.5M1232.6 2942.5L1265.0 2910.1" stroke="#f0f" stroke-width="5" fill="none" stroke-linecap="round"/>
<path d="M1365.9 2915.5H1402.8M1384.4 2897.1V2933.9" stroke="#f0f" stroke-width="5" fill="none"/><path d="M1365.3 2897.6L1397.7 2930.0M1365.3 2930.0L1397.7 2897.6" stroke="#f0f" stroke-width="5" fill="none" stroke-linecap="round"/>
<path d="M1499.0 2931.2H1535.9M1517.4 2912.8V2949.6" stroke="#f0f" stroke-width="5" fill="none"/><path d="M1498.0 2913.3L1530.4 2945.7M1498.0 2945.7L1530.4 2913.3" stroke="#f0f" stroke-width="5" fill="none" stroke-linecap="round"/>
<path d="M1632.0 2896.3H1668.9M1650.5 2877.9V2914.8" stroke="#f0f" stroke-width="5" fill="none"/><path d="M1630.7 2878.4L1663.1 2910.8M1630.7 2910.8L1663.1 2878.4" stroke="#f0f" stroke-width="5" fill="none" stroke-linecap="round"/>
<path d="M1765.0 2911.0H1802.0M1783.5 2892.6V2929.4" stroke="#f0f" stroke-width="5" fill="none"/><path d="M1763.4 2893.1L1795.8 2925.5M1763.4 2925.5L1795.8 2893.1" stroke="#f0f" stroke-width="5" fill="none" stroke-linecap="round"/>
<polygon points="1300.5,1859.2 1307.5,1880.7 1330.2,1880.7 1311.9,1894.1 1318.9,1915.7 1300.5,1902.3 1282.1,1915.7 1289.1,1894.1 1270.8,1880.7 1293.5,1880.7" fill="#000"/>
<text transform="translate(1414.5,1918.2)" font-size="81" text-anchor="start">500 r·min<tspan font-size="51.0" dy="-33.2">−1</tspan></text>
<ellipse cx="1300.5" cy="2007.9" rx="16.7" ry="16.7" fill="#f00"/>
<text transform="translate(1414.5,2035.9)" font-size="81" text-anchor="start">2000 r·min<tspan font-size="51.0" dy="-33.2">−1</tspan></text>
<polygon points="1278.1,2138.9 1322.9,2138.9 1300.5,2099.0" fill="none" stroke="#0f0" stroke-width="6" stroke-linejoin="round"/>
<text transform="translate(1414.5,2153.6)" font-size="81" text-anchor="start">4000 r·min<tspan font-size="51.0" dy="-33.2">−1</tspan></text>
<g stroke="#00f" stroke-width="6" fill="none" stroke-linejoin="round"><polygon points="1282.0,2231.7 1319.0,2231.7 1300.5,2264.7"/><path d="M1279.2 2243.7H1326.8M1303.0 2219.9V2267.5"/></g>
<text transform="translate(1414.5,2271.3)" font-size="81" text-anchor="start">6000 r·min<tspan font-size="51.0" dy="-33.2">−1</tspan></text>
<polygon points="1300.5,2340.5 1319.0,2359.4 1300.5,2378.3 1282.0,2359.4" fill="none" stroke="#ff8000" stroke-width="6" stroke-linejoin="round"/>
<text transform="translate(1414.5,2389)" font-size="81" text-anchor="start">8000 r·min<tspan font-size="51.0" dy="-33.2">−1</tspan></text>
<path d="M1284.5 2479.2H1321.5M1303.0 2460.8V2497.6" stroke="#f0f" stroke-width="5" fill="none"/><path d="M1284.3 2461.3L1316.7 2493.7M1284.3 2493.7L1316.7 2461.3" stroke="#f0f" stroke-width="5" fill="none" stroke-linecap="round"/>
<text transform="translate(1417,2506.7)" font-size="81" text-anchor="start">10,<tspan dx="-5.7">000</tspan> r·min<tspan font-size="51.0" dy="-33.2">−1</tspan></text>
</svg>
</body>
</html>
